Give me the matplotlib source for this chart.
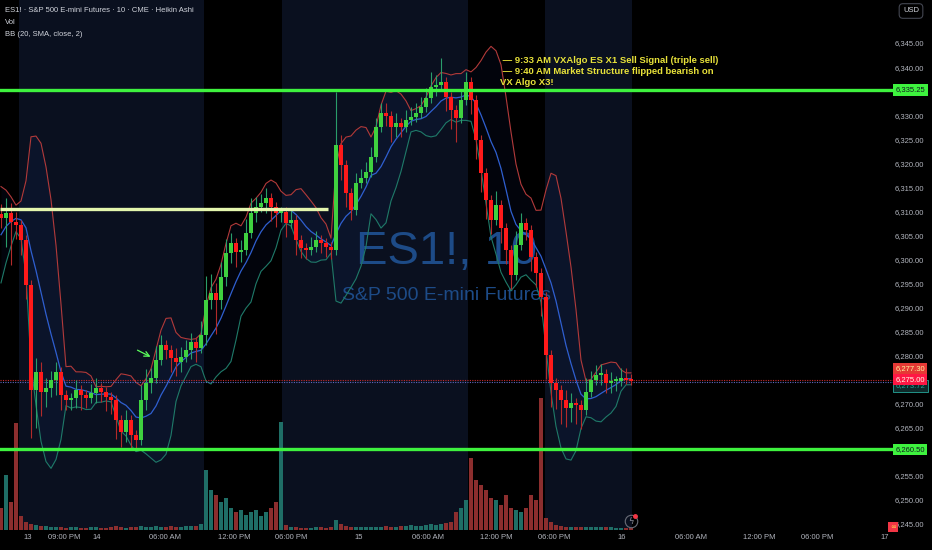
import numpy as np
import pandas as pd
import matplotlib
matplotlib.use("Agg")
import matplotlib.pyplot as plt

plt.rcParams['font.family'] = ['Liberation Sans', 'DejaVu Sans']

# ES1! 10 min Heikin Ashi, resampled to ~27 min bars (one bar every 5 px of the screenshot)
warmup_closes = [6296.0, 6299.5, 6302.0, 6306.5, 6308.0, 6311.0, 6309.5]  # only for the BB start
closes = [
    6308.6, 6309.7, 6307.8, 6307.2, 6304.0, 6294.7, 6272.9, 6276.6, 6272.4, 6273.3,
    6274.9, 6276.6, 6271.8, 6270.8, 6271.2, 6272.9, 6271.8, 6271.2, 6272.2, 6273.3,
    6272.4, 6271.4, 6270.8, 6266.6, 6264.1, 6266.6, 6263.5, 6262.5, 6270.8, 6274.3,
    6275.4, 6279.1, 6282.2, 6281.2, 6279.5, 6278.7, 6279.7, 6281.2, 6282.8, 6281.6,
    6284.3, 6291.6, 6293.0, 6291.6, 6296.4, 6301.3, 6303.4, 6301.5, 6302.0, 6305.5,
    6309.7, 6310.9, 6311.7, 6312.8, 6310.9, 6309.7, 6309.9, 6307.6, 6308.2, 6304.0,
    6302.4, 6302.0, 6302.6, 6304.0, 6303.4, 6302.6, 6302.0, 6323.8, 6319.6, 6313.8,
    6310.3, 6315.9, 6316.9, 6318.2, 6321.3, 6327.5, 6330.5, 6329.8, 6327.5, 6328.4,
    6327.5, 6329.0, 6329.6, 6330.5, 6331.7, 6333.6, 6335.9, 6336.3, 6336.9, 6333.8,
    6331.1, 6329.4, 6333.2, 6336.9, 6333.2, 6324.8, 6318.0, 6312.4, 6308.2, 6311.3,
    6306.5, 6302.0, 6296.8, 6303.0, 6307.6, 6306.1, 6300.5, 6297.2, 6292.2, 6280.1,
    6274.3, 6272.9, 6270.8, 6269.1, 6270.2, 6269.7, 6268.7, 6272.4, 6274.9, 6276.0,
    6276.2, 6274.3, 6274.7, 6274.7, 6275.4, 6275.2, 6275.0]
# wick lengths above / below the body (points)
upper_wick = [
    2, 3, 2, 2, 1, 1, 1, 3, 2, 2,  2, 2, 1, 1, 1, 2, 1, 1, 2, 2,
    1, 1, 1, 1, 1, 2, 1, 1, 3, 3,  2, 3, 2, 1, 1, 2, 2, 2, 2, 1,
    3, 5, 4, 2, 3, 3, 2, 1, 2, 3,  3, 2, 2, 2, 1, 1, 1, 1, 2, 1,
    1, 1, 2, 2, 1, 1, 1, 11, 2, 1, 1, 2, 2, 2, 2, 2, 2, 2, 1, 2,
    1, 2, 2, 2, 2, 2, 3, 2, 5, 1,  1, 1, 2, 2, 1, 1, 1, 1, 1, 3,
    1, 1, 1, 3, 2, 1, 1, 1, 1, 1,  1, 1, 1, 2, 2, 1, 1, 3, 2, 2,
    2, 1, 2, 1, 2, 2, 1]
lower_wick = [
    2, 6, 9, 3, 3, 3, 10, 8, 5, 3,  2, 3, 3, 2, 2, 2, 3, 2, 1, 2,
    2, 3, 3, 4, 3, 2, 3, 2, 1, 2,  2, 1, 1, 2, 3, 3, 2, 1, 2, 3,
    1, 2, 2, 7, 2, 2, 2, 3, 2, 1,  1, 2, 1, 2, 3, 3, 2, 3, 1, 3,
    2, 2, 1, 1, 2, 2, 2, 1, 3, 3,  2, 1, 1, 1, 1, 1, 1, 2, 3, 2,
    2, 1, 1, 1, 1, 1, 1, 2, 1, 3,  4, 5, 1, 1, 3, 4, 4, 4, 3, 1,
    3, 3, 3, 1, 1, 2, 3, 3, 4, 5,  5, 4, 5, 4, 3, 4, 4, 1, 1, 1,
    2, 2, 2, 2, 1, 1, 1]
# volume, thousands of contracts
volume = [
    6.7, 16.7, 8.5, 32.4, 4.2, 2.4, 1.8, 1.5, 1.2, 1.2,
    0.9, 0.9, 0.9, 0.6, 0.9, 0.9, 0.6, 0.6, 0.9, 0.9,
    0.6, 0.6, 0.9, 1.2, 0.9, 0.6, 0.9, 0.9, 1.2, 0.9,
    0.9, 1.2, 0.9, 0.9, 1.2, 0.9, 0.9, 1.2, 1.2, 1.2,
    1.8, 18.2, 12.1, 10.6, 8.5, 9.7, 6.7, 5.5, 6.1, 4.5,
    5.5, 6.1, 4.2, 5.5, 6.7, 8.5, 32.7, 1.5, 0.9, 0.9,
    0.6, 0.6, 0.6, 0.9, 0.9, 0.6, 0.9, 3.0, 1.8, 1.2,
    0.9, 0.9, 0.9, 0.9, 0.9, 0.9, 0.9, 1.2, 0.9, 0.9,
    1.2, 1.2, 1.5, 1.2, 1.2, 1.5, 1.8, 1.5, 1.8, 2.1,
    2.4, 5.5, 6.7, 9.1, 21.8, 15.2, 13.6, 12.1, 9.7, 9.1,
    7.6, 10.6, 6.7, 6.1, 5.5, 6.7, 10.6, 9.1, 40.0, 3.6,
    2.4, 1.5, 1.2, 0.9, 0.9, 0.9, 0.9, 0.9, 0.9, 0.9,
    0.9, 0.9, 0.9, 0.6, 0.6, 0.6, 0.6]

time_ticks = [5.4, 12.6, 19.2, 32.8, 46.6, 58.0, 71.6, 85.4, 99.0, 110.6, 124.2, 138.0, 151.6, 163.2, 176.8]
time_labels = ['13', '09:00 PM', '14', '06:00 AM', '12:00 PM', '06:00 PM', '15', '06:00 AM',
               '12:00 PM', '06:00 PM', '16', '06:00 AM', '12:00 PM', '06:00 PM', '17']
price_ticks = [6245, 6250, 6255, 6265, 6270, 6280, 6285, 6290, 6295, 6300, 6305,
               6310, 6315, 6320, 6325, 6330, 6340, 6345]
levels = [6335.25, 6260.50]
old_level = 6310.5
last_price = 6275.00
prev_close = 6277.30
bb_basis_now = 6273.72

closes = np.array(closes)
opens = np.r_[warmup_closes[-1], closes[:-1]]
up = closes >= opens
highs = np.maximum(opens, closes) + np.array(upper_wick)
lows = np.minimum(opens, closes) - np.array(lower_wick)
idx = np.arange(len(closes))

s = pd.Series(np.r_[warmup_closes, closes])
mid = s.rolling(8, min_periods=1).mean().values[len(warmup_closes):]
sd = s.rolling(8, min_periods=1).std(ddof=0).values[len(warmup_closes):]
bb_up = mid + 2 * sd
bb_lo = mid - 2 * sd

W, H = 932, 550
fig = plt.figure(figsize=(W / 100, H / 100), dpi=100, facecolor='black')
rect = [0, 20 / H, 1, 530 / H]
ax_v = fig.add_axes(rect)
ax = fig.add_axes(rect, sharex=ax_v)
ax_v.set_zorder(0)
ax.set_zorder(1)
ax.patch.set_visible(False)
ax_v.axis('off')


def u(px):
    return px / 5 - 0.2


def axpos(px, py):
    return px / W, 1 - py / 530


# sessions
for a, b in [(19, 204), (282, 468), (545, 632)]:
    ax_v.axvspan(u(a), u(b), color='#0a101f', lw=0)
vcol = np.where(up, '#1f6e66', '#8c2e2e')
ax_v.bar(idx, volume, width=0.8, color=vcol, lw=0)
ax_v.set_ylim(0, max(volume) * 4.0)
ax_v.set_xlim(-0.2, 186.2)

# watermark
ax.text(*axpos(447, 252), 'ES1!, 10', transform=ax.transAxes, ha='center', va='center',
        fontsize=34, color='#1d4b87', zorder=1)
ax.text(*axpos(446, 295), 'S&P 500 E-mini Futures', transform=ax.transAxes, ha='center',
        va='center', fontsize=14, color='#1d4b87', zorder=1)

# bollinger bands
ax.fill_between(idx, bb_lo, bb_up, color='#2962ff', alpha=0.05, lw=0, zorder=2)
ax.plot(idx, bb_up, color='#b23a3a', lw=0.8, zorder=2)
ax.plot(idx, mid, color='#2f5fd0', lw=0.9, zorder=2)
ax.plot(idx, bb_lo, color='#1f7a68', lw=0.8, zorder=2)

# candles
ax.vlines(idx, lows, highs, colors=np.where(up, '#2a9d6a', '#b22a2a'), lw=0.8, zorder=3)
body = closes - opens
body = np.where(np.abs(body) < 0.4, np.where(up, 0.4, -0.4), body)
ax.bar(idx, body, bottom=opens, width=0.8, color=np.where(up, '#3fd13f', '#ff1a1a'), lw=0, zorder=4)

# horizontal levels
ax.axhline(last_price, xmax=893 / W, color='#c62828', lw=0.8, ls=(0, (1, 1.2)), zorder=2)
ax.axhline(last_price - 0.5, xmax=893 / W, color='#5c6bc0', lw=0.8, ls=(0, (1, 1.2)), zorder=2)
for lv in levels:
    ax.axhline(lv, xmax=895 / W, color='#3ef23e', lw=2.4, zorder=5)
ax.hlines(old_level, u(0), u(328), color='#e4f6ad', lw=2.4, zorder=5)

# drawn arrow
ax.annotate('', xy=(30.4, 6279.5), xytext=(26.8, 6281.4),
            arrowprops=dict(arrowstyle='->', color='#5cff5c', lw=0.9, mutation_scale=9), zorder=6)

ax.text(*axpos(500, 56), ' \u2014 9:33 AM VXAlgo ES X1 Sell Signal (triple sell)\n'
        ' \u2014 9:40 AM Market Structure flipped bearish on\nVX Algo X3!',
        transform=ax.transAxes, ha='left', va='top', fontsize=6.8, fontweight='bold',
        color='#e8e23a', linespacing=1.3, zorder=7)

# header
hdr = ['ES1! \u00b7 S&P 500 E-mini Futures \u00b7 10 \u00b7 CME \u00b7 Heikin Ashi', 'Vol',
       'BB (20, SMA, close, 2)']
for t, py in zip(hdr, [11, 23, 34]):
    ax.text(*axpos(5, py), t, transform=ax.transAxes, ha='left', va='center',
            fontsize=5.5, color='#d1d4dc', zorder=7)

# axes
ax.set_xlim(-0.2, 186.2)
ax.set_ylim(6243.75, 6353.94)
for sp in ax.spines.values():
    sp.set_visible(False)
ax.set_xticks(time_ticks)
ax.set_xticklabels(time_labels)
ax.tick_params(axis='x', length=0, pad=3, labelsize=5.5, labelcolor='#b2b5be')
ax.yaxis.tick_right()
ax.set_yticks(price_ticks)
ax.set_yticklabels([f'{v:,.2f}' for v in price_ticks])
ax.tick_params(axis='y', length=0, pad=-26.6, labelsize=5.5, labelcolor='#b2b5be')

# price scale labels
yt = ax.get_yaxis_transform()
ax.text(895.5 / W, bb_basis_now, f'{bb_basis_now:,.2f}', transform=yt, ha='left', va='center',
        fontsize=5.5, color='#26a69a', zorder=6, clip_on=False,
        bbox=dict(boxstyle='square,pad=0.3', fc='#0f2a2a', ec='#26a69a', lw=0.6))
for lv in levels:
    ax.text(895.5 / W, lv, f'{lv:,.2f}', transform=yt, ha='left', va='center', fontsize=5.5,
            color='#131722', zorder=8, clip_on=False,
            bbox=dict(boxstyle='square,pad=0.3', fc='#3ef23e', ec='none'))
ax.text(895.5 / W, prev_close, f'{prev_close:,.2f}', transform=yt, ha='left', va='center',
        fontsize=5.5, color='#fff59d', zorder=8, clip_on=False,
        bbox=dict(boxstyle='square,pad=0.3', fc='#e53935', ec='none'))
ax.text(895.5 / W, last_price, f'{last_price:,.2f}', transform=yt, ha='left', va='center',
        fontsize=5.5, color='#fffde7', zorder=9, clip_on=False,
        bbox=dict(boxstyle='square,pad=0.3', fc='#ff1744', ec='none'))

# icons
ax.plot([631 / W], [1 - 521 / 530], marker='o', ms=9, mfc='none', mec='#6a6d78', mew=0.8,
        transform=ax.transAxes, clip_on=False, zorder=7)
ax.plot([635 / W], [1 - 516 / 530], marker='o', ms=2.5, color='#f23645',
        transform=ax.transAxes, clip_on=False, zorder=8)
ax.text(631 / W, 1 - 521 / 530, '\u03df', transform=ax.transAxes, ha='center', va='center',
        fontsize=6, color='#8a8d98', family=['DejaVu Sans'], zorder=8)
ax.text(*axpos(893, 527), '\u221e', transform=ax.transAxes, ha='center', va='center', fontsize=5,
        color='#ffd54f', family=['DejaVu Sans'], zorder=9, clip_on=False,
        bbox=dict(boxstyle='square,pad=0.25', fc='#f23645', ec='none'))
fig.text(911 / W, 1 - 11 / H, 'USD', ha='center', va='center', fontsize=5.5, color='#d1d4dc',
         bbox=dict(boxstyle='round,pad=0.5', fc='black', ec='#434651', lw=0.8))

fig.savefig('out.png', dpi=100, facecolor='black')
